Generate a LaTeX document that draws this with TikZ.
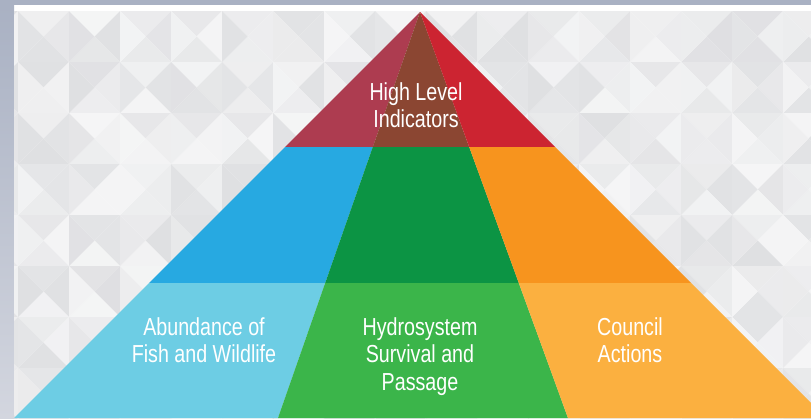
\documentclass[tikz,border=0pt]{standalone}
\usepackage{fontspec}
\setmainfont[FakeStretch=0.8]{Liberation Sans}
\definecolor{frametop}{HTML}{A9B1C3}
\definecolor{framelow}{HTML}{D3D6DF}
\definecolor{tilebase}{HTML}{D6D7DA}
\definecolor{redleft}{HTML}{AD3C50}
\definecolor{redmid}{HTML}{8B4632}
\definecolor{redright}{HTML}{CC2431}
\definecolor{blueup}{HTML}{27A9E1}
\definecolor{greenup}{HTML}{0C9444}
\definecolor{orangeup}{HTML}{F7941E}
\definecolor{bluelow}{HTML}{6DCDE4}
\definecolor{greenlow}{HTML}{3BB54A}
\definecolor{orangelow}{HTML}{FBB040}
\tikzset{tiertext/.style={text=white, align=center, anchor=north, inner sep=0pt,
  font=\fontsize{21}{23.8}\selectfont}}
\begin{document}
\begin{tikzpicture}[x=0.03cm, y=-0.03cm]
\useasboundingbox (0,0) rectangle (811,418);
\clip (0,0) rectangle (811,418);
% cadre
\fill [white] (0,0) rectangle (811,418);
\fill [frametop] (0,0) rectangle (811,5);
\shade [top color=frametop, bottom color=framelow] (0,5) rectangle (14,418);
% fond en triangles
\pgfmathsetseed{7}
\begin{scope}
\clip (14,11) rectangle (811,418);
\foreach \i in {-1,...,15}{
  \foreach \j in {0,...,7}{
    \pgfmathsetmacro\xa{18+51*\i}
    \pgfmathsetmacro\xb{69+51*\i}
    \pgfmathsetmacro\xc{43.5+51*\i}
    \pgfmathsetmacro\ya{11+51*\j}
    \pgfmathsetmacro\yb{62+51*\j}
    \pgfmathsetmacro\yc{36.5+51*\j}
    \pgfmathsetmacro\sa{int(25+55*rnd)}
    \pgfmathsetmacro\sb{int(25+55*rnd)}
    \pgfmathsetmacro\sc{int(25+55*rnd)}
    \pgfmathsetmacro\sd{int(25+55*rnd)}
    \fill [tilebase!\sa!white] (\xa,\ya) -- (\xb,\ya) -- (\xc,\yc) -- cycle;
    \fill [tilebase!\sb!white] (\xb,\ya) -- (\xb,\yb) -- (\xc,\yc) -- cycle;
    \fill [tilebase!\sc!white] (\xb,\yb) -- (\xa,\yb) -- (\xc,\yc) -- cycle;
    \fill [tilebase!\sd!white] (\xa,\yb) -- (\xa,\ya) -- (\xc,\yc) -- cycle;
  }
}
\end{scope}
% pyramide : sommet
\coordinate (apex) at (420,12);
\fill [redleft] (apex) -- (285,147) -- (372.8,147) -- cycle;
\fill [redmid] (apex) -- (372.8,147) -- (469.2,147) -- cycle;
\fill [redright] (apex) -- (469.2,147) -- (555,147) -- cycle;
% pyramide : milieu
\fill [blueup] (285,147) -- (149,283) -- (325.2,283) -- (372.8,147) -- cycle;
\fill [greenup] (372.8,147) -- (325.2,283) -- (518.8,283) -- (469.2,147) -- cycle;
\fill [orangeup] (469.2,147) -- (518.8,283) -- (691,283) -- (555,147) -- cycle;
% pyramide : base
\fill [bluelow] (149,283) -- (14,418) -- (278,418) -- (325.2,283) -- cycle;
\fill [greenlow] (325.2,283) -- (278,418) -- (568,418) -- (518.8,283) -- cycle;
\fill [orangelow] (518.8,283) -- (568,418) -- (826,418) -- (691,283) -- cycle;
% textes
\node [tiertext] (high) at (416,82) {High Level\\Indicators};
\node [tiertext] (fish) at (204,317) {Abundance of\\Fish and Wildlife};
\node [tiertext] (hydro) at (420,317) {Hydrosystem\\Survival and\\Passage};
\node [tiertext] (council) at (630,317) {Council\\Actions};
\end{tikzpicture}
\end{document}
